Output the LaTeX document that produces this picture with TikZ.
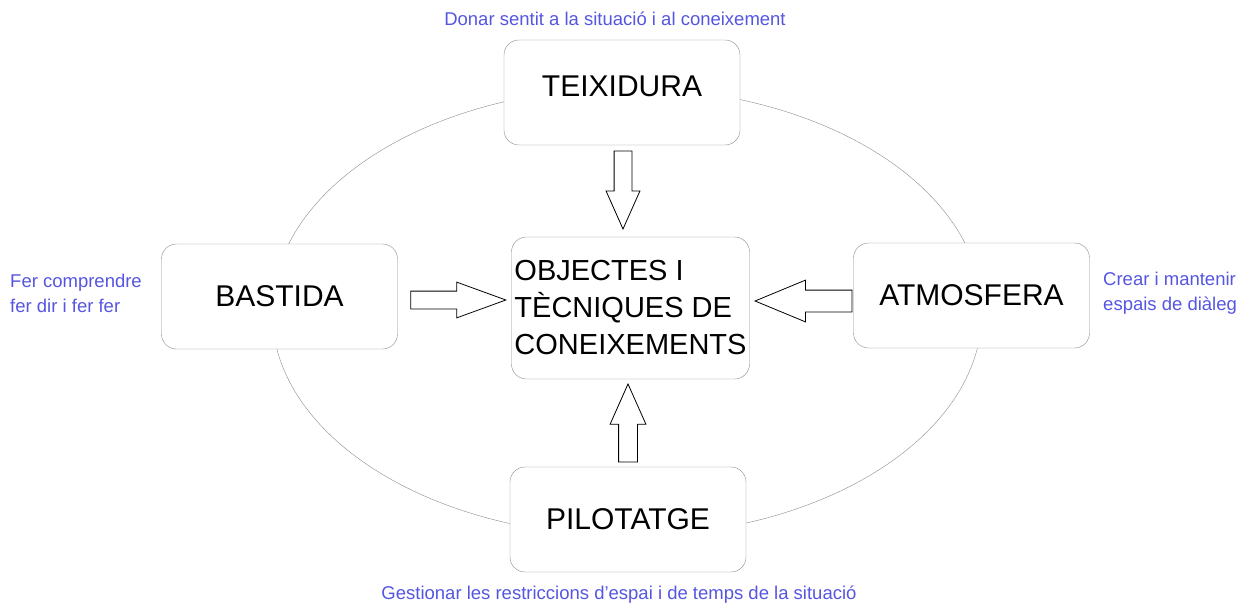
\documentclass[tikz,border=0pt]{standalone}
\usepackage{fontspec}
\setmainfont{Liberation Sans}
\usetikzlibrary{shapes.arrows}
\definecolor{notecol}{RGB}{85,85,225}
\tikzset{
  box/.style={draw=gray!90,fill=white,rounded corners=15pt,minimum width=236pt,minimum height=105pt,font=\fontsize{30}{36}\selectfont},
  note/.style={text=notecol,font=\fontsize{18.5}{25}\selectfont,inner sep=0pt,align=left},
  bigarrow/.style={single arrow,draw,fill=white,inner sep=0pt,line width=0.8pt,anchor=tip}
}
\begin{document}
\begin{tikzpicture}[x=1pt,y=-1pt]
    \useasboundingbox(0,0)rectangle(1241,602);
    \draw[gray!90](627,312)ellipse[x radius=355pt,y radius=224pt];
    % the four boxes round the middle
    \node[box,text depth=12pt](teix)at(622,92.5){TEIXIDURA};
    \node[box](bast)at(279.5,296.5){BASTIDA};
    \node[box](atmo)at(971.5,295.5){ATMOSFERA};
    \node[box](pilo)at(628,519.5){PILOTATGE};
    \node[box,minimum width=235pt,minimum height=142pt,align=left,inner sep=3pt,font=\fontsize{29}{37}\selectfont](obj)at(630.5,308){OBJECTES I\\TÈCNIQUES DE\\CONEIXEMENTS};
    % block arrows
    \node[bigarrow,shape border rotate=270,minimum height=78pt,inner xsep=8.5pt,single arrow head extend=8pt,single arrow tip angle=48](arrTeix)at(623,230){};
    \node[bigarrow,minimum height=95pt,inner ysep=8.5pt,single arrow head extend=9pt,single arrow tip angle=40](arrBast)at(507,300){};
    \node[bigarrow,shape border rotate=180,minimum height=97pt,inner ysep=10.5pt,single arrow head extend=10pt,single arrow tip angle=45](arrAtmo)at(754,301){};
    \node[bigarrow,shape border rotate=90,minimum height=78pt,inner xsep=9pt,single arrow head extend=8.5pt,single arrow tip angle=48](arrPilo)at(628,383){};
    % notes
    \node[note,anchor=base](nTeix)at(615,26){Donar sentit a la situació i al coneixement};
    \node[note,anchor=west](nBast)at(10,293){Fer comprendre\\fer dir i fer fer};
    \node[note,anchor=west](nAtmo)at(1103,293){Crear i mantenir\\espais de diàleg};
    \node[note,anchor=base](nPilo)at(619,599){Gestionar les restriccions d'espai i de temps de la situació};
\end{tikzpicture}
\end{document}
